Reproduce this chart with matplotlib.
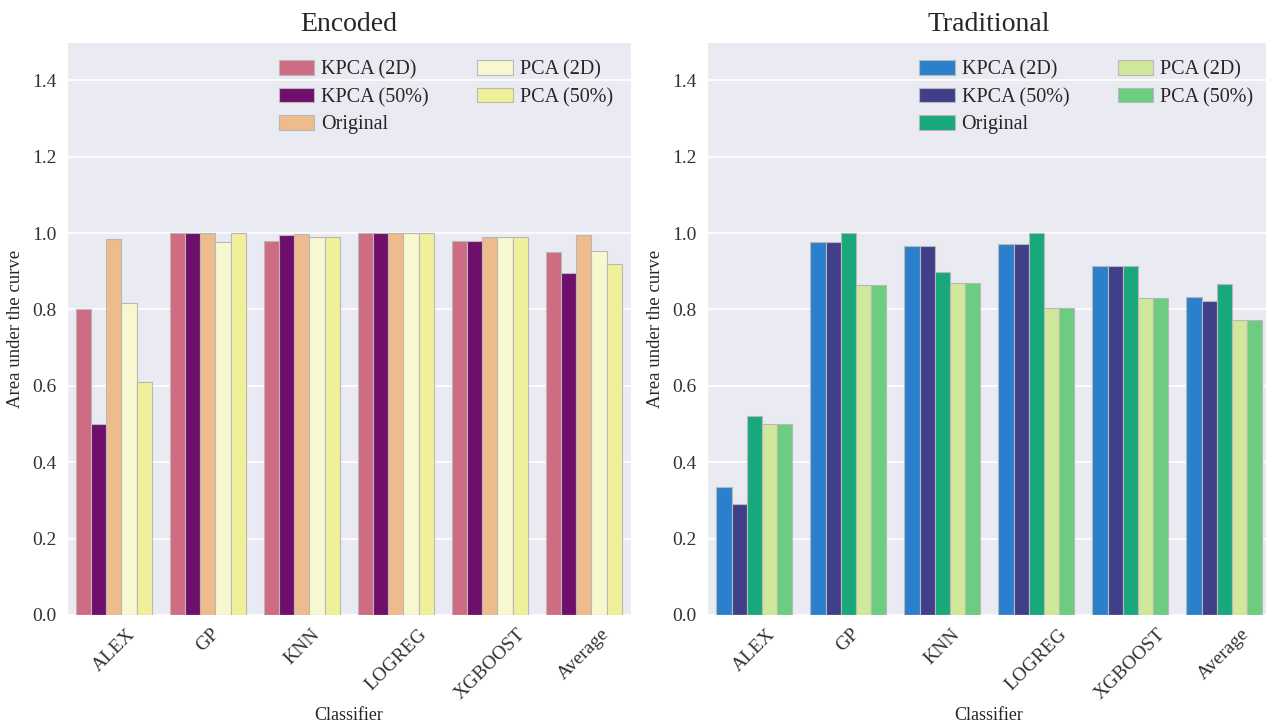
import matplotlib
matplotlib.use("Agg")
import matplotlib.pyplot as plt
import numpy as np
import seaborn as sns

sns.set_style("darkgrid")
plt.rcParams["font.family"] = ["Liberation Serif", "DejaVu Serif"]

classifiers = ["ALEX", "GP", "KNN", "LOGREG", "XGBOOST", "Average"]
methods = ["KPCA (2D)", "KPCA (50%)", "Original", "PCA (2D)", "PCA (50%)"]

# Area under the curve, encoded features
enc_kpca_2d = [0.800, 1.000, 0.978, 1.000, 0.978, 0.951]
enc_kpca_50 = [0.500, 1.000, 0.995, 1.000, 0.978, 0.895]
enc_original = [0.984, 1.000, 0.998, 1.000, 0.990, 0.994]
enc_pca_2d = [0.816, 0.976, 0.989, 1.000, 0.990, 0.954]
enc_pca_50 = [0.610, 1.000, 0.989, 1.000, 0.990, 0.918]

# Area under the curve, traditional features
trad_kpca_2d = [0.336, 0.976, 0.965, 0.970, 0.913, 0.832]
trad_kpca_50 = [0.291, 0.976, 0.965, 0.970, 0.913, 0.823]
trad_original = [0.521, 1.000, 0.899, 1.000, 0.913, 0.866]
trad_pca_2d = [0.499, 0.865, 0.869, 0.805, 0.829, 0.773]
trad_pca_50 = [0.499, 0.865, 0.869, 0.805, 0.829, 0.773]

enc_colors = ["#cf6c84", "#6e106b", "#eebc8c", "#f7f7d0", "#f0f09a"]
trad_colors = ["#2a80cc", "#40408a", "#18a87c", "#d0e89a", "#6ccc80"]

fig = plt.figure(figsize=(12.66, 7.22), dpi=100)
ax1 = fig.add_axes([0.0529, 0.1482, 0.4455, 0.7936])
ax2 = fig.add_axes([0.5585, 0.1482, 0.4455, 0.7936])


def draw(ax, series, colors, title):
    x = np.arange(len(classifiers))
    n = len(series)
    width = 0.8 / n
    for i, (vals, col, lab) in enumerate(zip(series, colors, methods)):
        ax.bar(x - 0.4 + width * (i + 0.5), vals, width, color=col,
               edgecolor="#b8b8b8", linewidth=0.8, label=lab)
    ax.set_xlim(-0.5, len(classifiers) - 0.5)
    ax.set_ylim(0, 1.5)
    ax.grid(axis="x", visible=False)
    ax.grid(axis="y", color="white", linewidth=1.2)
    ax.set_yticks(np.arange(0, 1.41, 0.2))
    ax.set_yticklabels([f"{v:.1f}" for v in np.arange(0, 1.41, 0.2)], fontsize=14)
    ax.set_xticks(x)
    ax.set_xticklabels(classifiers, rotation=45, fontsize=14)
    ax.tick_params(axis="both", colors="#333333", pad=4)
    ax.set_xlabel("Classifier", fontsize=13, labelpad=3)
    ax.set_ylabel("Area under the curve", fontsize=13.5, labelpad=6)
    ax.set_title(title, fontsize=20, pad=8)
    ax.legend(ncol=2, loc="upper right", frameon=False, fontsize=14.5,
              handlelength=1.75, handleheight=0.75, handletextpad=0.35,
              columnspacing=2.4, labelspacing=0.4, borderaxespad=0.5)


draw(ax1, [enc_kpca_2d, enc_kpca_50, enc_original, enc_pca_2d, enc_pca_50],
     enc_colors, "Encoded")
draw(ax2, [trad_kpca_2d, trad_kpca_50, trad_original, trad_pca_2d, trad_pca_50],
     trad_colors, "Traditional")

fig.savefig("out.png", dpi=100)
